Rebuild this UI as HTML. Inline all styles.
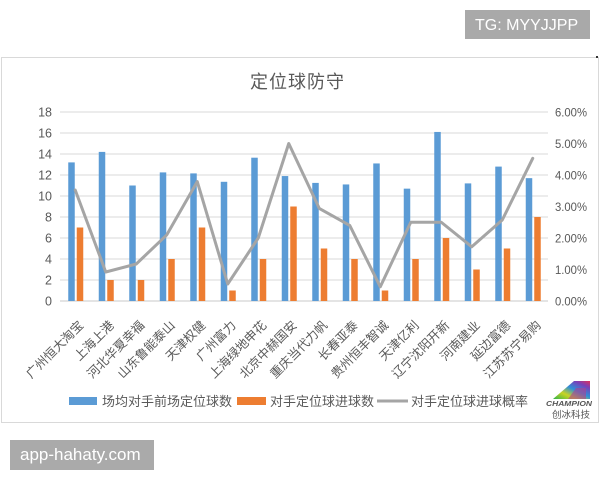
<!DOCTYPE html>
<html>
<head>
<meta charset="utf-8">
<style>
html,body{margin:0;padding:0;background:#fff;}
svg{display:block;}
text{font-family:"Liberation Sans","Noto Sans CJK SC",sans-serif;}
</style>
</head>
<body>
<svg width="600" height="480" viewBox="0 0 600 480" xmlns="http://www.w3.org/2000/svg">
<defs>
<linearGradient id="lg" x1="0" y1="1" x2="1" y2="0">
<stop offset="0" stop-color="#2fb24a"/>
<stop offset="0.3" stop-color="#c9d422"/>
<stop offset="0.55" stop-color="#2f8fd8"/>
<stop offset="0.8" stop-color="#7a3fb8"/>
<stop offset="1" stop-color="#e0305a"/>
</linearGradient>
</defs>
<rect x="0" y="0" width="600" height="480" fill="#fff"/>
<!-- TG box -->
<rect x="465" y="10" width="125" height="29" fill="#a9a9a9"/>
<text x="475" y="30" font-size="16" fill="#fff">TG: MYYJJPP</text>
<!-- chart frame -->
<rect x="1.5" y="57.5" width="597" height="365" fill="#fff" stroke="#d9d9d9" stroke-width="1"/>
<rect x="596" y="56" width="2" height="2" fill="#333"/>
<!-- title -->
<text x="297.5" y="88" font-size="18" fill="#595959" text-anchor="middle" letter-spacing="1">定位球防守</text>
<!-- gridlines -->
<g stroke="#d9d9d9" stroke-width="1">
<line x1="60" y1="112" x2="548" y2="112"/>
<line x1="60" y1="133" x2="548" y2="133"/>
<line x1="60" y1="154" x2="548" y2="154"/>
<line x1="60" y1="175" x2="548" y2="175"/>
<line x1="60" y1="196" x2="548" y2="196"/>
<line x1="60" y1="217" x2="548" y2="217"/>
<line x1="60" y1="238" x2="548" y2="238"/>
<line x1="60" y1="259" x2="548" y2="259"/>
<line x1="60" y1="280" x2="548" y2="280"/>
</g>
<line x1="60" y1="301" x2="548" y2="301" stroke="#c8c8c8" stroke-width="1"/>
<!-- left axis labels -->
<g font-size="12.5" fill="#595959" text-anchor="end">
<text x="52" y="116.5">18</text>
<text x="52" y="137.5">16</text>
<text x="52" y="158.5">14</text>
<text x="52" y="179.5">12</text>
<text x="52" y="200.5">10</text>
<text x="52" y="221.5">8</text>
<text x="52" y="242.5">6</text>
<text x="52" y="263.5">4</text>
<text x="52" y="284.5">2</text>
<text x="52" y="305.5">0</text>
</g>
<!-- right axis labels -->
<g font-size="12" fill="#595959">
<text x="555" y="116.5" textLength="32" lengthAdjust="spacingAndGlyphs">6.00%</text>
<text x="555" y="148" textLength="32" lengthAdjust="spacingAndGlyphs">5.00%</text>
<text x="555" y="179.5" textLength="32" lengthAdjust="spacingAndGlyphs">4.00%</text>
<text x="555" y="211" textLength="32" lengthAdjust="spacingAndGlyphs">3.00%</text>
<text x="555" y="242.5" textLength="32" lengthAdjust="spacingAndGlyphs">2.00%</text>
<text x="555" y="274" textLength="32" lengthAdjust="spacingAndGlyphs">1.00%</text>
<text x="555" y="305.5" textLength="32" lengthAdjust="spacingAndGlyphs">0.00%</text>
</g>
<!-- blue bars -->
<g fill="#5b9bd5">
<rect x="68.25" y="162.4" width="6.5" height="138.6"/>
<rect x="98.75" y="151.9" width="6.5" height="149.1"/>
<rect x="129.25" y="185.5" width="6.5" height="115.5"/>
<rect x="159.75" y="172.4" width="6.5" height="128.6"/>
<rect x="190.25" y="173.4" width="6.5" height="127.6"/>
<rect x="220.75" y="181.8" width="6.5" height="119.2"/>
<rect x="251.25" y="157.7" width="6.5" height="143.3"/>
<rect x="281.75" y="176.05" width="6.5" height="124.95"/>
<rect x="312.25" y="182.9" width="6.5" height="118.1"/>
<rect x="342.75" y="184.45" width="6.5" height="116.55"/>
<rect x="373.25" y="163.45" width="6.5" height="137.55"/>
<rect x="403.75" y="188.65" width="6.5" height="112.35"/>
<rect x="434.25" y="131.95" width="6.5" height="169.05"/>
<rect x="464.75" y="183.4" width="6.5" height="117.6"/>
<rect x="495.25" y="166.6" width="6.5" height="134.4"/>
<rect x="525.75" y="178.15" width="6.5" height="122.85"/>
</g>
<!-- orange bars -->
<g fill="#ed7d31">
<rect x="76.75" y="227.5" width="6.5" height="73.5"/>
<rect x="107.25" y="280" width="6.5" height="21"/>
<rect x="137.75" y="280" width="6.5" height="21"/>
<rect x="168.25" y="259" width="6.5" height="42"/>
<rect x="198.75" y="227.5" width="6.5" height="73.5"/>
<rect x="229.25" y="290.5" width="6.5" height="10.5"/>
<rect x="259.75" y="259" width="6.5" height="42"/>
<rect x="290.25" y="206.5" width="6.5" height="94.5"/>
<rect x="320.75" y="248.5" width="6.5" height="52.5"/>
<rect x="351.25" y="259" width="6.5" height="42"/>
<rect x="381.75" y="290.5" width="6.5" height="10.5"/>
<rect x="412.25" y="259" width="6.5" height="42"/>
<rect x="442.75" y="238" width="6.5" height="63"/>
<rect x="473.25" y="269.5" width="6.5" height="31.5"/>
<rect x="503.75" y="248.5" width="6.5" height="52.5"/>
<rect x="534.25" y="217" width="6.5" height="84"/>
</g>
<!-- line -->
<polyline fill="none" stroke="#a5a5a5" stroke-width="3" stroke-linejoin="round" stroke-linecap="round"
points="75.25,190.1 105.75,272 136.25,264 166.75,234.9 197.25,181.6 227.75,284 258.25,238 288.75,143.5 319.25,208.4 349.75,225.4 380.25,286.8 410.75,222.25 441.25,222.25 471.75,246.8 502.25,220 532.75,158.3"/>
<!-- x labels -->
<g font-size="12.5" fill="#595959" text-anchor="end">
<text transform="translate(84.25,326) rotate(-45)">广州恒大淘宝</text>
<text transform="translate(114.75,326) rotate(-45)">上海上港</text>
<text transform="translate(145.25,326) rotate(-45)">河北华夏幸福</text>
<text transform="translate(175.75,326) rotate(-45)">山东鲁能泰山</text>
<text transform="translate(206.25,326) rotate(-45)">天津权健</text>
<text transform="translate(236.75,326) rotate(-45)">广州富力</text>
<text transform="translate(267.25,326) rotate(-45)">上海绿地申花</text>
<text transform="translate(297.75,326) rotate(-45)">北京中赫国安</text>
<text transform="translate(328.25,326) rotate(-45)">重庆当代力帆</text>
<text transform="translate(358.75,326) rotate(-45)">长春亚泰</text>
<text transform="translate(389.25,326) rotate(-45)">贵州恒丰智诚</text>
<text transform="translate(419.75,326) rotate(-45)">天津亿利</text>
<text transform="translate(450.25,326) rotate(-45)">辽宁沈阳开新</text>
<text transform="translate(480.75,326) rotate(-45)">河南建业</text>
<text transform="translate(511.25,326) rotate(-45)">延边富德</text>
<text transform="translate(541.75,326) rotate(-45)">江苏苏宁易购</text>
</g>
<!-- legend -->
<rect x="69" y="397" width="28" height="8" fill="#5b9bd5"/>
<text x="102" y="406" font-size="13" fill="#595959">场均对手前场定位球数</text>
<rect x="237" y="397" width="29" height="8" fill="#ed7d31"/>
<text x="270" y="406" font-size="13" fill="#595959">对手定位球进球数</text>
<line x1="377" y1="401" x2="408" y2="401" stroke="#a5a5a5" stroke-width="3"/>
<text x="411" y="406" font-size="13" fill="#595959">对手定位球进球概率</text>
<!-- logo -->
<polygon points="553,399 574,381 590,381 590,399" fill="url(#lg)"/>
<polygon points="568,399 576,388 586,388 586,399" fill="#b04090" opacity="0.6"/>
<text x="569" y="406" font-size="7" font-weight="bold" font-style="italic" fill="#555" text-anchor="middle" textLength="46" lengthAdjust="spacingAndGlyphs">CHAMPION</text>
<text x="571" y="418" font-size="9.5" fill="#555" text-anchor="middle">创冰科技</text>
<!-- watermark bottom -->
<rect x="10" y="440" width="144" height="30" fill="#aaaaaa"/>
<text x="20" y="460" font-size="17" fill="#fff">app-hahaty.com</text>
</svg>
</body>
</html>
